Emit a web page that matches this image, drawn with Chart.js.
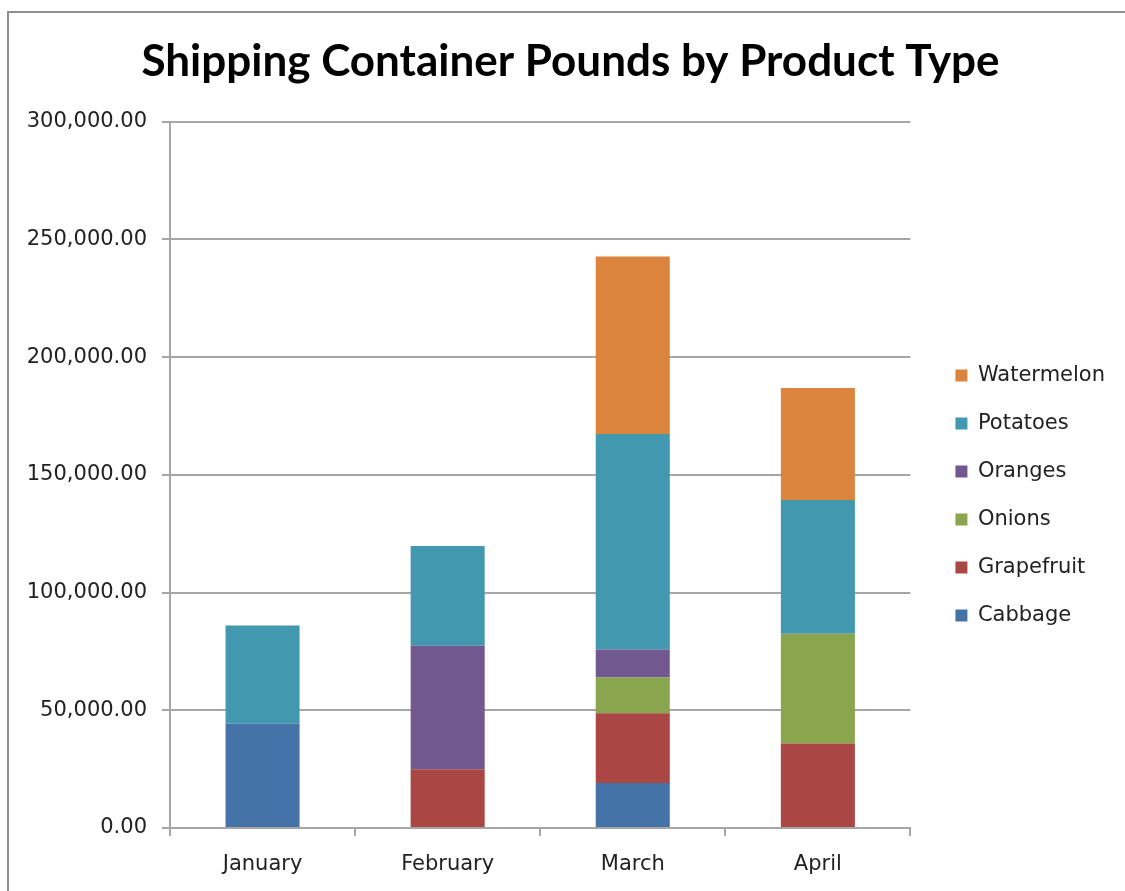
<!DOCTYPE html>
<html>
<head>
<meta charset="utf-8">
<script src="https://cdn.jsdelivr.net/npm/chart.js@4"></script>
<style>
  body { margin: 0; background: #fff; }
  #frame { position: absolute; left: 7px; top: 11px; right: 0; bottom: 0; border-left: 2px solid #8e8e8e; border-top: 2px solid #8e8e8e; }
  #wrap { position: absolute; left: 0; top: 0; width: 1125px; height: 891px; }
</style>
</head>
<body>
<div id="frame"></div>
<div id="wrap"><canvas id="myChart" width="1125" height="891"></canvas></div>
<script>
const months = ['January', 'February', 'March', 'April'];
const cabbage = [44400, 0, 19100, 0];
const grapefruit = [0, 25000, 29600, 35900];
const onions = [0, 0, 15200, 46600];
const oranges = [0, 52400, 11900, 0];
const potatoes = [41600, 42400, 91600, 56800];
const watermelon = [0, 0, 75400, 47600];

const font = "'DejaVu Sans', sans-serif";
const gridColor = '#a6a6a6';

// move the legend and title a bit to match the excel layout
const nudgeLegend = {
    id: 'nudgeLegend',
    afterLayout(chart) {
        const lg = chart.legend;
        lg.left += 18; lg.right += 18;
        lg.top += 50; lg.bottom += 50;
        const t = chart.titleBlock;
        t.left += 22; t.right += 22;
    }
};

const ctx = document.getElementById('myChart').getContext('2d');
const myChart = new Chart(ctx, {
    type: 'bar',
    data: {
        labels: months,
        datasets: [
            { label: 'Cabbage', data: cabbage, backgroundColor: '#4572A7' },
            { label: 'Grapefruit', data: grapefruit, backgroundColor: '#AA4643' },
            { label: 'Onions', data: onions, backgroundColor: '#89A54E' },
            { label: 'Oranges', data: oranges, backgroundColor: '#71588F' },
            { label: 'Potatoes', data: potatoes, backgroundColor: '#4198AF' },
            { label: 'Watermelon', data: watermelon, backgroundColor: '#DB843D' }
        ]
    },
    options: {
        responsive: false,
        animation: false,
        categoryPercentage: 1,
        barPercentage: 0.4,
        layout: { padding: { right: 28 } },
        plugins: {
            title: {
                display: true,
                text: 'Shipping Container Pounds by Product Type',
                color: '#000',
                font: { family: "Lato, sans-serif", size: 44, weight: 'bold' },
                padding: { top: 35, bottom: 34 }
            },
            legend: {
                position: 'right',
                reverse: true,
                labels: {
                    boxWidth: 12,
                    boxHeight: 12,
                    padding: 27,
                    color: '#222',
                    font: { family: font, size: 21 }
                }
            },
            tooltip: { enabled: false }
        },
        scales: {
            x: {
                stacked: true,
                afterFit: s => { s.height = 63; },
                grid: { drawOnChartArea: false, drawTicks: true, tickLength: 8, color: gridColor, lineWidth: 2 },
                border: { color: gridColor, width: 2 },
                ticks: { color: '#222', padding: 16, font: { family: font, size: 21 } }
            },
            y: {
                stacked: true,
                min: 0,
                max: 300000,
                afterFit: s => { s.width = 170; },
                grid: { color: gridColor, lineWidth: 2, tickLength: 8 },
                border: { color: gridColor, width: 2 },
                ticks: {
                    stepSize: 50000,
                    padding: 15,
                    color: '#222',
                    font: { family: font, size: 21 },
                    callback: v => v.toLocaleString('en-US', { minimumFractionDigits: 2, maximumFractionDigits: 2 })
                }
            }
        }
    },
    plugins: [nudgeLegend]
});
</script>
</body>
</html>
